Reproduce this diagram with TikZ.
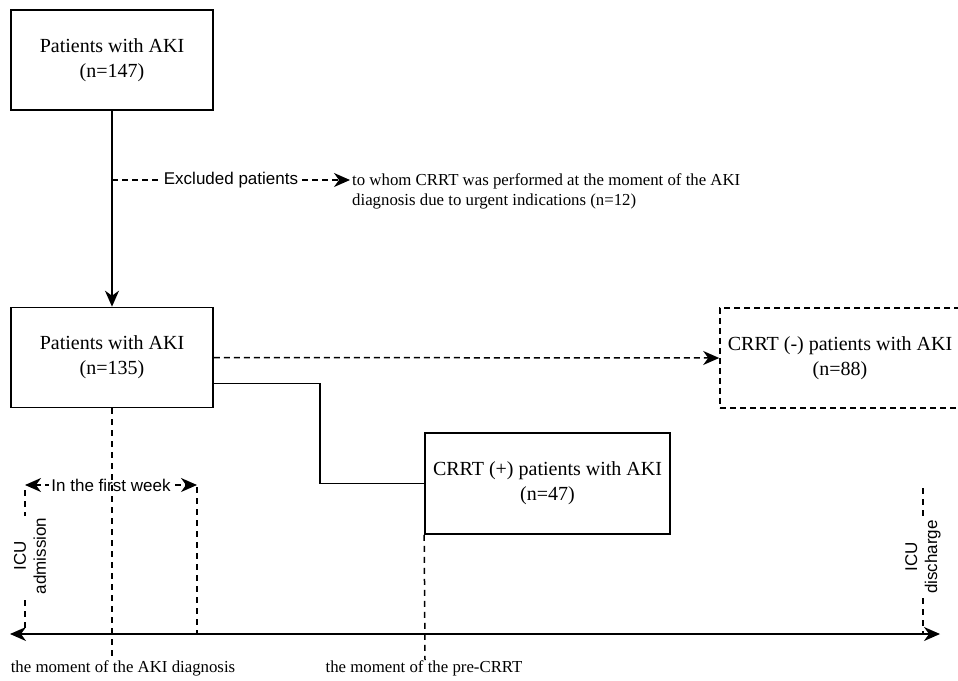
\documentclass[tikz,border=0pt]{standalone}
\usepackage{fontspec}
\setmainfont{Liberation Serif}
\newfontfamily\arialf{Liberation Sans}
\usetikzlibrary{arrows.meta}
\begin{document}
\begin{tikzpicture}[x=1pt,y=-1pt,
  box/.style={draw, line width=1.6pt, minimum width=202pt, minimum height=100pt,
    align=center, font=\fontsize{20}{25}\selectfont, inner sep=0pt},
  dbox/.style={box, dash pattern=on 6pt off 4pt},
  conn/.style={line width=1.6pt},
  dconn/.style={line width=1.5pt, dash pattern=on 6pt off 4pt},
  vdash/.style={line width=1.5pt, dash pattern=on 6pt off 5pt},
  tip/.style={-{Stealth[length=16pt,width=14pt,inset=5pt]}},
  tips/.style={{Stealth[length=16pt,width=14pt,inset=5pt]}-{Stealth[length=16pt,width=14pt,inset=5pt]}},
  stext/.style={font=\arialf\fontsize{17}{20}\selectfont, inner sep=2pt},
  rtext/.style={font=\fontsize{16.8}{20}\selectfont, inner sep=2pt},
  lbl/.style={stext, fill=white}
]
\useasboundingbox (0,0) rectangle (958,680);
\clip (0,0) rectangle (958,680);

% boxes
\node[box] (p147) at (112,60) {Patients with AKI\\(n=147)};
\node[box] (p135) at (112,357.5) {Patients with AKI\\(n=135)};
\node[dbox, minimum width=240pt] (neg) at (840,358) {CRRT (-) patients with AKI\\(n=88)};
\node[box, minimum width=245pt, minimum height=101pt] (pos) at (547.5,483.5) {CRRT (+) patients with AKI\\(n=47)};

% main flow
\draw[conn,tip] (p147) -- (p135);
\coordinate (ex) at (112,180);
\coordinate (exend) at (350,180);
\node[rtext, anchor=west, align=left] (excl) at (350,191)
  {to whom CRRT was performed at the moment of the AKI\\diagnosis due to urgent indications (n=12)};
\draw[dconn,tip] (ex) -- node[lbl] {Excluded patients} (exend);

\draw[dconn,tip] (p135.east) -- (neg.west);
\draw[conn] ([yshift=-26pt]p135.east) -- ++(106,0) |- (pos.west);

% timeline
\coordinate (tl) at (10,634);
\coordinate (tr) at (940,634);
\draw[conn,tips] (tl) -- (tr);

% ICU admission
\coordinate (admtop) at (25,490);
\coordinate (admbot) at (25,634);
\draw[vdash] (admtop) -- (admbot);
\node[lbl, rotate=90, align=center] (adm) at (30,556) {ICU\\admission};

% ICU discharge
\coordinate (distop) at (923,488);
\coordinate (disbot) at (923,634);
\draw[vdash] (distop) -- (disbot);
\node[lbl, rotate=90, align=center] (dis) at (923,557) {ICU\\discharge};

% first week
\coordinate (fwtop) at (197,487);
\coordinate (fwbot) at (197,634);
\draw[vdash] (fwtop) -- (fwbot);
\coordinate (fwl) at (25,485);
\coordinate (fwr) at (197,485);
\draw[dconn,tips] (fwl) -- node[lbl] {In the first week} (fwr);

% AKI diagnosis moment
\coordinate (akibot) at (112,660);
\draw[vdash] (p135.south) -- (akibot);
\node[rtext] (akilbl) at (123,668) {the moment of the AKI diagnosis};

% pre-CRRT moment
\coordinate (prebot) at (425,660);
\draw[vdash] (pos.south west) -- (prebot);
\node[rtext] (prelbl) at (424,668) {the moment of the pre-CRRT};
\end{tikzpicture}
\end{document}
